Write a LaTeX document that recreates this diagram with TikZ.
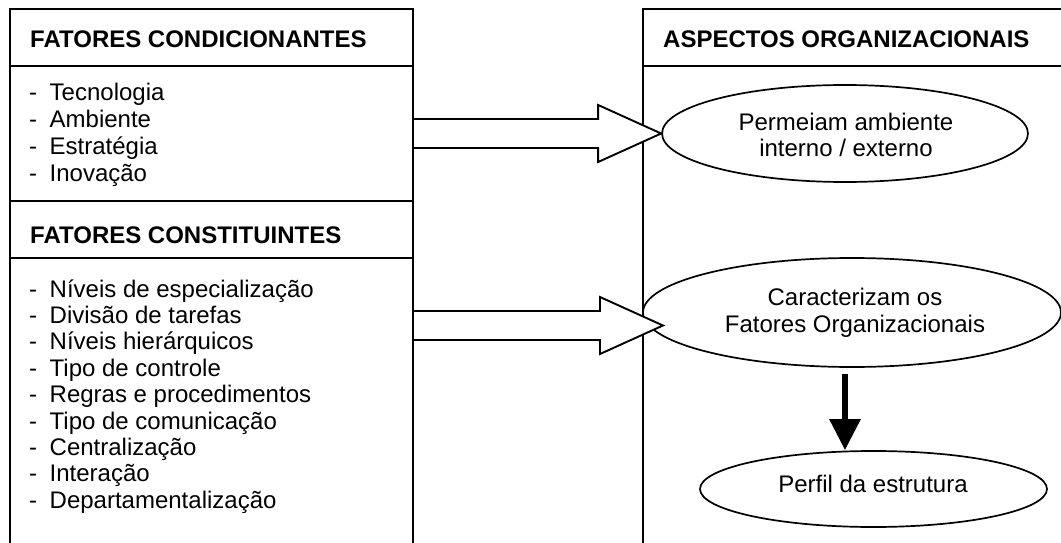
\documentclass[tikz,border=0pt]{standalone}
\usepackage{fontspec}
\setmainfont{Liberation Sans}
\usetikzlibrary{calc,shapes.geometric,arrows.meta}

\begin{document}
\begin{tikzpicture}[x=1pt,y=-1pt,
  frame/.style={line width=1.9pt},
  oval/.style={draw,ellipse,line width=1.7pt,inner sep=0pt},
  txt/.style={inner sep=0pt,font=\fontsize{24pt}{27pt}\selectfont},
  head/.style={txt,anchor=base west,font=\fontsize{24pt}{27pt}\selectfont\bfseries},
  item/.style={txt,anchor=base west},
  label/.style={txt,anchor=base},
  barrow/.style={draw,fill=white,line width=1.9pt,line join=miter},
  darrow/.style={line width=6pt,-{Triangle[length=31pt,width=30pt]}}
]
\useasboundingbox (0,0) rectangle (1061,543);

% left column: conditioning and constituent factors
\draw[frame] (10,543) -- (10,9) -- (413,9) -- (413,543);
\draw[frame] (10,66) -- (413,66);
\draw[frame] (10,201) -- (413,201);
\draw[frame] (10,258) -- (413,258);

% right column: organisational aspects
\draw[frame] (643,543) -- (643,9) -- (1061,9);
\draw[frame] (643,66) -- (1061,66);

% headings
\node[head] (h1) at (30,48) {FATORES CONDICIONANTES};
\node[head] (h2) at (30,243) {FATORES CONSTITUINTES};
\node[head] (h3) at (663,48) {ASPECTOS ORGANIZACIONAIS};

% list of conditioning factors
\foreach \t [count=\i] in {Tecnologia,Ambiente,Estratégia,Inovação}
  \node[item] (c\i) at (29,{100+27.3*(\i-1)}) {\makebox[20.5pt][l]{-}\t};

% list of constituent factors
\foreach \t [count=\i] in {Níveis de especialização,Divisão de tarefas,Níveis hierárquicos,Tipo de controle,Regras e procedimentos,Tipo de comunicação,Centralização,Interação,Departamentalização}
  \node[item] (k\i) at (29,{297+26.4*(\i-1)}) {\makebox[20.5pt][l]{-}\t};

% ellipses
\node[oval,minimum width=366pt,minimum height=97pt] (e1) at (845,133.5) {};
\node[oval,minimum width=418pt,minimum height=109pt] (e2) at (852,312.5) {};
\node[oval,minimum width=347pt,minimum height=76pt] (e3) at (873.5,489) {};

\node[label] (t1a) at (846,130) {Permeiam ambiente};
\node[label] (t1b) at (846,157) {interno / externo};
\node[label] (t2a) at (855,305) {Caracterizam os};
\node[label] (t2b) at (855,332) {Fatores Organizacionais};
\node[label] (t3) at (873,492) {Perfil da estrutura};

% block arrows from the factor lists to the ellipses
\coordinate (a1s) at (413,133.5);
\coordinate (a1t) at (e1.west);
\coordinate (a2s) at (413,325.5);
\coordinate (a2t) at (663,325.5);
\foreach \s/\t in {a1s/a1t,a2s/a2t}
  \draw[barrow] ($(\s)+(0,-14.5)$) -- ($(\t)+(-63,-14.5)$) -- ($(\t)+(-63,-28.5)$)
    -- (\t) -- ($(\t)+(-63,28.5)$) -- ($(\t)+(-63,14.5)$) -- ($(\s)+(0,14.5)$) -- cycle;

% solid arrow down to the structure profile
\coordinate (b1) at ($(e2.south)+(-7,6)$);
\coordinate (b2) at (b1 |- e3.north);
\draw[darrow] (b1) -- (b2);
\end{tikzpicture}
\end{document}
